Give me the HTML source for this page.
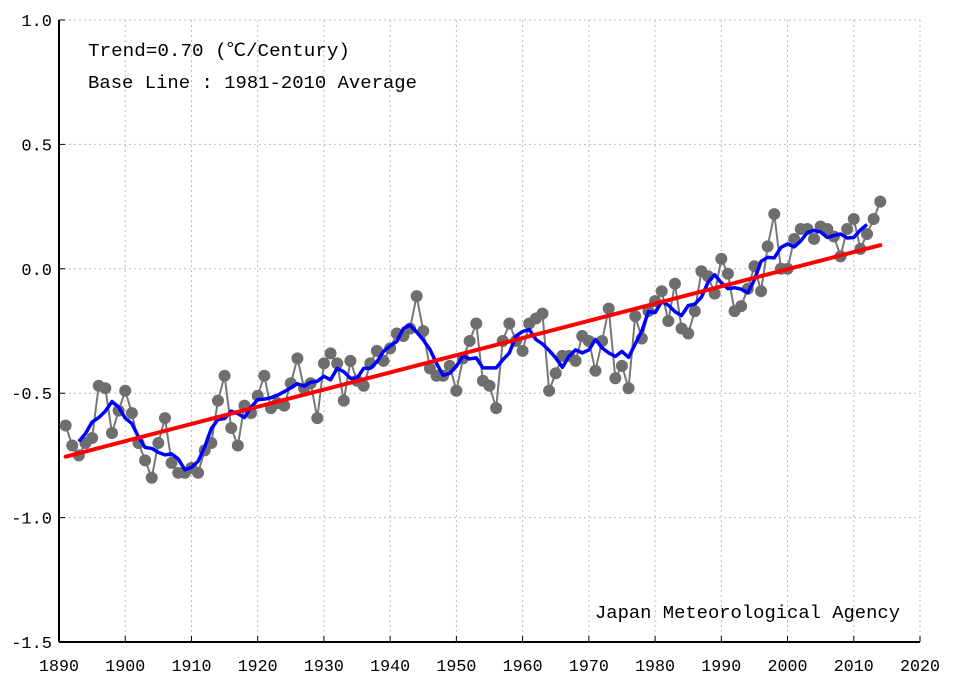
<!DOCTYPE html>
<html><head><meta charset="utf-8"><style>
body{margin:0;background:#fff}
svg text{font-family:"Liberation Mono","Noto Sans CJK JP",monospace;fill:#000}
</style></head><body>
<svg id="c" width="956" height="690"></svg>
<script>
const years=[];for(let y=1891;y<=2014;y++)years.push(y);
const anomalies=[-0.63,-0.71,-0.75,-0.70,-0.68,-0.47,-0.48,-0.66,-0.57,-0.49,
-0.58,-0.70,-0.77,-0.84,-0.70,-0.60,-0.78,-0.82,-0.82,-0.80,
-0.82,-0.73,-0.70,-0.53,-0.43,-0.64,-0.71,-0.55,-0.58,-0.51,
-0.43,-0.56,-0.54,-0.55,-0.46,-0.36,-0.48,-0.46,-0.60,-0.38,
-0.34,-0.38,-0.53,-0.37,-0.45,-0.47,-0.38,-0.33,-0.37,-0.32,
-0.26,-0.27,-0.24,-0.11,-0.25,-0.40,-0.43,-0.43,-0.39,-0.49,
-0.36,-0.29,-0.22,-0.45,-0.47,-0.56,-0.29,-0.22,-0.29,-0.33,
-0.22,-0.20,-0.18,-0.49,-0.42,-0.35,-0.35,-0.37,-0.27,-0.29,
-0.41,-0.29,-0.16,-0.44,-0.39,-0.48,-0.19,-0.28,-0.17,-0.13,
-0.09,-0.21,-0.06,-0.24,-0.26,-0.17,-0.01,-0.03,-0.10,0.04,
-0.02,-0.17,-0.15,-0.08,0.01,-0.09,0.09,0.22,0.00,0.00,
0.12,0.16,0.16,0.12,0.17,0.16,0.13,0.05,0.16,0.20,
0.08,0.14,0.20,0.27];
const trendYears=[1891,2014];
const trendValues=[-0.755,0.095];
const xTicks=[1890,1900,1910,1920,1930,1940,1950,1960,1970,1980,1990,2000,2010,2020];
const yTicks=[1.0,0.5,0.0,-0.5,-1.0,-1.5];
const yTickLabels=["1.0","0.5","0.0","-0.5","-1.0","-1.5"];

const L=59,R=920,T=20,B=642;
const X=y=>L+(y-1890)/130*(R-L);
const Y=v=>T+(1.0-v)/2.5*(B-T);
const svg=document.getElementById('c');
const NS='http://www.w3.org/2000/svg';
function mk(tag,a,parent){const e=document.createElementNS(NS,tag);for(const k in a)e.setAttribute(k,a[k]);(parent||svg).appendChild(e);return e;}

const grid=mk('g',{});


xTicks.forEach(t=>{if(t>1890)mk('line',{x1:X(t),x2:X(t),y1:T,y2:B,stroke:'#bbb','stroke-dasharray':'2,3'},grid);});
yTicks.forEach(t=>{if(t>-1.5)mk('line',{x1:L,x2:R,y1:Y(t),y2:Y(t),stroke:'#bbb','stroke-dasharray':'2,3'},grid);});

const ax=mk('g',{});


mk('line',{x1:L,x2:L,y1:T,y2:B,stroke:'#000','stroke-width':2},ax);
mk('line',{x1:L,x2:R,y1:B,y2:B,stroke:'#000','stroke-width':2},ax);
xTicks.forEach(t=>{
 mk('line',{x1:X(t),x2:X(t),y1:B,y2:B-6,stroke:'#000'},ax);
 const tx=mk('text',{x:X(t),y:671,'text-anchor':'middle','font-size':17,textLength:40,lengthAdjust:'spacingAndGlyphs'},ax);
 
 
 tx.textContent=t;
});
yTicks.forEach((t,i)=>{
 mk('line',{x1:L,x2:L+6,y1:Y(t),y2:Y(t),stroke:'#000'},ax);
 const tx=mk('text',{x:52,y:Y(t)+6,'text-anchor':'end','font-size':17},ax);
 
 
 tx.textContent=yTickLabels[i];
});

const pts=years.map((y,i)=>X(y)+','+Y(anomalies[i])).join(' ');
const annual=mk('polyline',{points:pts,fill:'none',stroke:'#777','stroke-width':2});


years.forEach((y,i)=>{
 const c=mk('circle',{cx:X(y),cy:Y(anomalies[i]),r:6,fill:'#6e6e6e'});
 
 
});
const rm=[];
for(let i=2;i<anomalies.length-2;i++){let s=0;for(let k=-2;k<=2;k++)s+=anomalies[i+k];rm.push(X(years[i])+','+Y(s/5));}
const blue=mk('polyline',{points:rm.join(' '),fill:'none',stroke:'#0000ff','stroke-width':3.5,'stroke-linejoin':'round'});


const tr=mk('line',{x1:X(trendYears[0]),y1:Y(trendValues[0]),x2:X(trendYears[1]),y2:Y(trendValues[1]),stroke:'#ff0000','stroke-width':4,'stroke-linecap':'round'});



const t1=mk('text',{x:88,y:56,'font-size':18,textLength:262,lengthAdjust:'spacingAndGlyphs'});


t1.textContent='Trend=0.70 (℃/Century)';
const t2=mk('text',{x:88,y:88,'font-size':18,textLength:329,lengthAdjust:'spacingAndGlyphs'});


t2.textContent='Base Line : 1981-2010 Average';
const t3=mk('text',{x:595,y:618,'font-size':18,textLength:305,lengthAdjust:'spacingAndGlyphs'});


t3.textContent='Japan Meteorological Agency';
</script>
</body></html>
